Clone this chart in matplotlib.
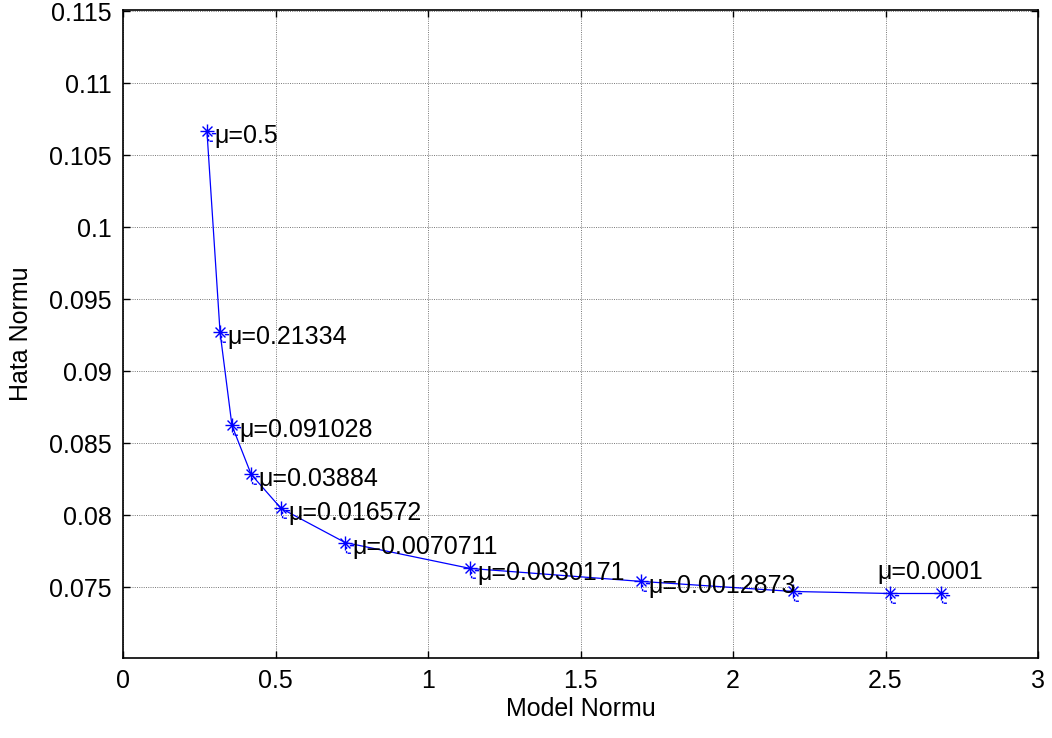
import numpy as np
import matplotlib
matplotlib.use('Agg')
import matplotlib.pyplot as plt
from matplotlib.path import Path

plt.rcParams['font.family'] = ['Liberation Sans', 'DejaVu Sans']

model_norm = [0.275, 0.318, 0.357, 0.420, 0.518, 0.728, 1.138, 1.698, 2.197, 2.515, 2.682]
error_norm = [0.10667, 0.09271, 0.08625, 0.08285, 0.08049, 0.07812, 0.07632, 0.07542, 0.07472, 0.07458, 0.07458]
mu_labels = ['\u03bc=0.5', '\u03bc=0.21334', '\u03bc=0.091028', '\u03bc=0.03884', '\u03bc=0.016572',
             '\u03bc=0.0070711', '\u03bc=0.0030171', '\u03bc=0.0012873', '', '', '\u03bc=0.0001']

# matlab-like asterisk with the little dashed bits that sit under it
segs = []
r = 6.5
for a in np.deg2rad([0, 45, 90, 135]):
    segs.append(((-r * np.cos(a), -r * np.sin(a)), (r * np.cos(a), r * np.sin(a))))
segs += [((4, -2), (8, -2)),
         ((1, -3), (1, -5)), ((1, -7), (1, -9)),
         ((2, -9), (5, -9))]
verts, codes = [], []
for p0, p1 in segs:
    verts += [p0, p1]
    codes += [Path.MOVETO, Path.LINETO]
star = Path(verts, codes)

fs = 18
fig = plt.figure(figsize=(10.52, 7.38), dpi=100)
ax = fig.add_axes([0.117, 0.1084, 0.8697, 0.878])

ax.plot(model_norm, error_norm, color='blue', lw=0.9, zorder=3)
ax.plot(model_norm, error_norm, ls='none', color='blue', marker=star, ms=14, mew=1.0, zorder=3)

# label each point (last one sits above its marker)
for i, (xv, yv, lab) in enumerate(zip(model_norm, error_norm, mu_labels)):
    if not lab:
        continue
    if i == len(model_norm) - 1:
        ax.annotate(lab, (xv, yv), xytext=(-46, 7), textcoords='offset points',
                    ha='left', va='bottom', fontsize=fs)
    else:
        ax.annotate(lab, (xv, yv), xytext=(5.5, -3), textcoords='offset points',
                    ha='left', va='center', fontsize=fs)

ax.set_xlim(0, 3)
ax.set_ylim(0.0701, 0.1151)
ax.set_xticks(np.arange(0, 3.01, 0.5))
ax.set_xticklabels(['0', '0.5', '1', '1.5', '2', '2.5', '3'])
ax.set_yticks([0.075, 0.08, 0.085, 0.09, 0.095, 0.1, 0.105, 0.11, 0.115])
ax.set_yticklabels(['0.075', '0.08', '0.085', '0.09', '0.095', '0.1', '0.105', '0.11', '0.115'])
ax.tick_params(direction='in', length=5, width=1, top=True, right=True, labelsize=fs, pad=8)
ax.grid(True, color='#666666', linestyle=(0, (1.2, 1.5)), linewidth=0.6)
for s in ax.spines.values():
    s.set_linewidth(1.2)

ax.set_xlabel('Model Normu', fontsize=fs, labelpad=3)
ax.set_ylabel('Hata Normu', fontsize=fs, labelpad=12)

fig.savefig('out.png', dpi=100)
